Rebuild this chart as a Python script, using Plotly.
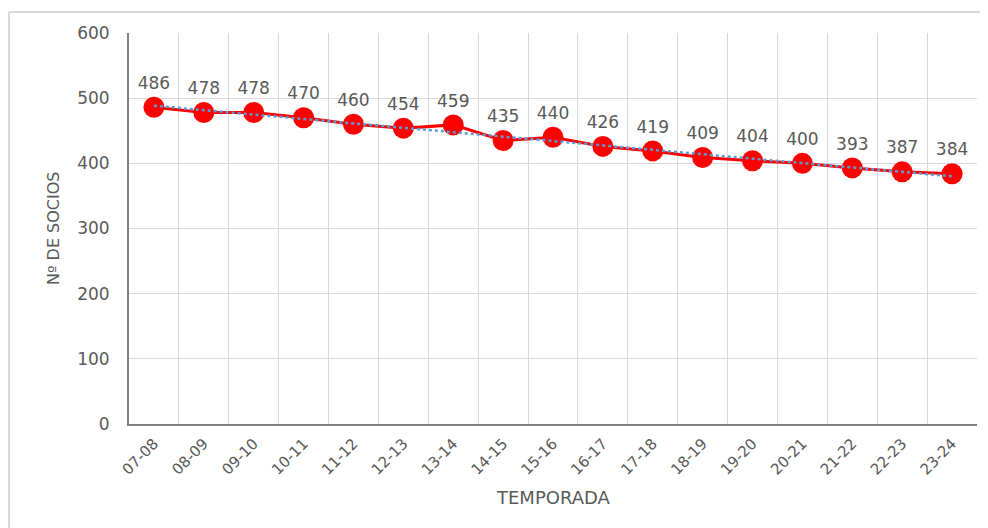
import numpy as np
import plotly.graph_objects as go

temporadas = ["07-08", "08-09", "09-10", "10-11", "11-12", "12-13", "13-14", "14-15",
              "15-16", "16-17", "17-18", "18-19", "19-20", "20-21", "21-22", "22-23", "23-24"]
socios = [486, 478, 478, 470, 460, 454, 459, 435, 440, 426, 419, 409, 404, 400, 393, 387, 384]
y_ticks = [0, 100, 200, 300, 400, 500, 600]

# linear trendline (as Excel's)
idx = np.arange(len(socios))
slope, intercept = np.polyfit(idx, socios, 1)
trend = slope * idx + intercept

# page has an 8px body margin; figure is sized to fit the 988x528 window
OFF = 8
W, H = 988 - OFF, 528 - OFF
L, R, T, B = 129 - OFF, 977 - OFF, 33 - OFF, 424 - OFF

FONT = "DejaVu Sans, Verdana, sans-serif"
TXT = "#595959"

fig = go.Figure()
fig.add_trace(go.Scatter(
    x=temporadas, y=socios, mode="lines+markers+text",
    line=dict(color="#FF0000", width=3),
    marker=dict(color="#FF0000", size=21),
    text=[str(v) for v in socios], textposition="top center",
    textfont=dict(family=FONT, size=17, color=TXT),
    cliponaxis=False, showlegend=False, hoverinfo="x+y",
))
# linear trendline drawn on top, as in the reference
fig.add_trace(go.Scatter(
    x=temporadas, y=trend, mode="lines",
    line=dict(color="#5B9BD5", width=2.5, dash="dot"),
    showlegend=False, hoverinfo="skip",
))

gx = lambda px: (px - OFF - L) / (R - L)
gy = lambda py: (B - (py - OFF)) / (B - T)
fig.add_shape(type="line", xref="paper", yref="paper",
              x0=gx(9), x1=gx(990), y0=gy(12), y1=gy(12),
              line=dict(color="#D9D9D9", width=2))
fig.add_shape(type="line", xref="paper", yref="paper",
              x0=gx(9), x1=gx(9), y0=gy(12), y1=gy(530),
              line=dict(color="#D9D9D9", width=2))

fig.add_annotation(text="Nº DE SOCIOS", xref="paper", yref="paper",
                   x=gx(53), y=gy(228), textangle=-90, showarrow=False,
                   xanchor="center", yanchor="middle",
                   font=dict(family=FONT, size=16, color=TXT))
fig.add_annotation(text="TEMPORADA", xref="paper", yref="paper",
                   x=gx(553), y=gy(498), showarrow=False,
                   xanchor="center", yanchor="middle",
                   font=dict(family=FONT, size=18, color=TXT))

fig.update_layout(
    width=W, height=H,
    margin=dict(l=L, r=W - R, t=T, b=H - B, autoexpand=False),
    plot_bgcolor="white", paper_bgcolor="white",
    font=dict(family=FONT, color=TXT),
    xaxis=dict(
        type="category", tickson="boundaries", ticks="", showgrid=True,
        gridcolor="#D9D9D9", gridwidth=1, showline=True, linecolor="#808080", linewidth=2,
        tickangle=-45, tickfont=dict(family=FONT, size=15, color=TXT),
        ticklabelstandoff=3,
        range=[-0.5, len(temporadas) - 0.5], automargin=False,
    ),
    yaxis=dict(
        range=[0, 600], tickvals=y_ticks, ticks="", showgrid=True,
        gridcolor="#D9D9D9", gridwidth=1, showline=True, linecolor="#808080", linewidth=2,
        tickfont=dict(family=FONT, size=17, color=TXT), zeroline=False,
        ticklabelstandoff=14, automargin=False,
    ),
)

fig.write_html("out.html")
